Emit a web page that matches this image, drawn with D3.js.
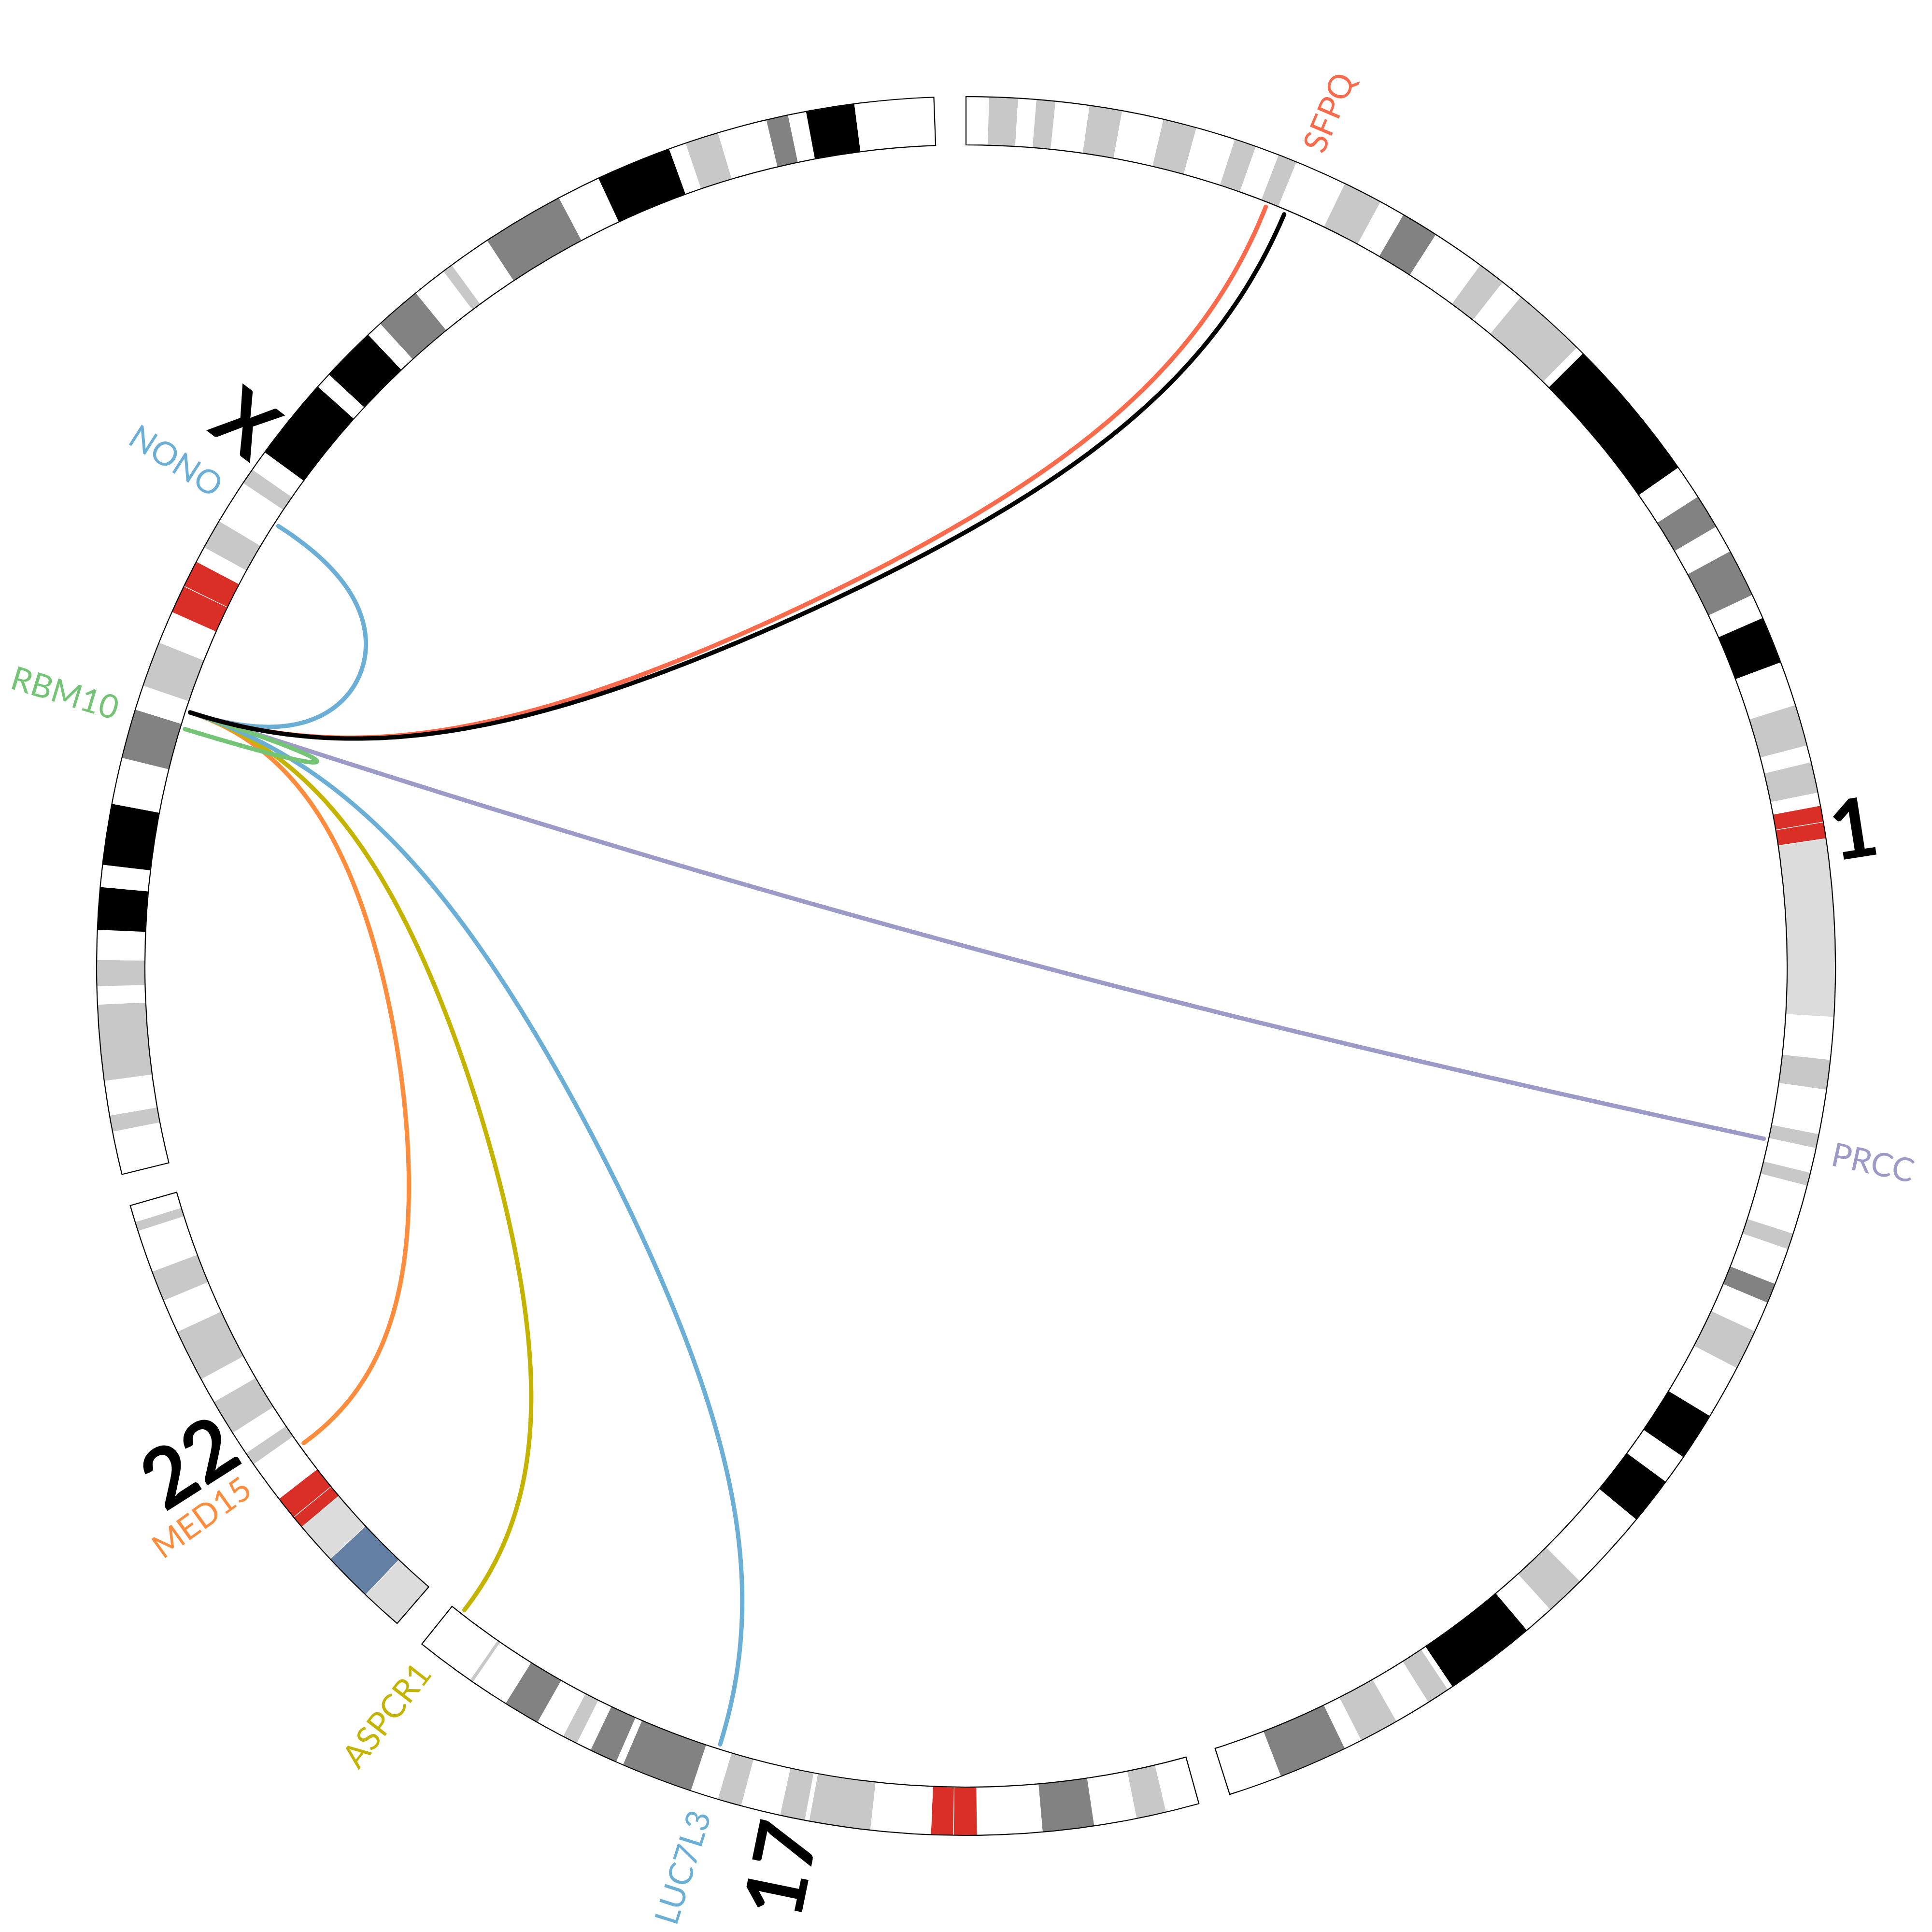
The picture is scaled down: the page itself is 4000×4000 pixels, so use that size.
<!DOCTYPE html>
<html>
<head>
<meta charset="utf-8">
<script src="https://cdn.jsdelivr.net/npm/d3@7"></script>
<style>
  html, body { margin: 0; padding: 0; background: #ffffff; }
  svg { display: block; }
</style>
</head>
<body>
<svg id="chart" width="4000" height="4000"></svg>
<script>
// ---------------- DATA ----------------
const chromNames = ["1", "17", "22", "X"];
const chromLengths = [248.956422, 83.257441, 50.818468, 156.040895]; // Mb
const chromGapDeg = 2.12;

// cytobands [start Mb, end Mb, stain]
const bandsChr1 = [
  [0,2.3,"gneg"],[2.3,5.3,"gpos25"],[5.3,7.1,"gneg"],[7.1,9.1,"gpos25"],[9.1,12.5,"gneg"],
  [12.5,15.9,"gpos50"],[15.9,20.1,"gneg"],[20.1,23.6,"gpos25"],[23.6,27.6,"gneg"],[27.6,29.9,"gpos25"],
  [29.9,32.3,"gneg"],[32.3,34.3,"gpos25"],[34.3,39.6,"gneg"],[39.6,43.7,"gpos25"],[43.7,46.3,"gneg"],
  [46.3,50.2,"gpos75"],[50.2,55.6,"gneg"],[55.6,58.5,"gpos50"],[58.5,60.8,"gneg"],[60.8,68.5,"gpos50"],
  [68.5,69.3,"gneg"],[69.3,84.4,"gpos100"],[84.4,87.9,"gneg"],[87.9,91.5,"gpos75"],[91.5,94.3,"gneg"],
  [94.3,99.3,"gpos75"],[99.3,101.8,"gneg"],[101.8,106.7,"gpos100"],[106.7,111.2,"gneg"],[111.2,115.5,"gpos50"],
  [115.5,117.2,"gneg"],[117.2,120.4,"gpos50"],[120.4,121.7,"gneg"],[121.7,123.4,"acen"],[123.4,125.1,"acen"],
  [125.1,143.2,"gvar"],[143.2,147.5,"gneg"],[147.5,150.6,"gpos50"],[150.6,155.1,"gneg"],[155.1,156.6,"gpos50"],
  [156.6,159.1,"gneg"],[159.1,160.5,"gpos50"],[160.5,165.5,"gneg"],[165.5,167.2,"gpos50"],[167.2,170.9,"gneg"],
  [170.9,173.0,"gpos75"],[173.0,176.1,"gneg"],[176.1,180.3,"gpos50"],[180.3,185.8,"gneg"],[185.8,190.8,"gpos100"],
  [190.8,193.8,"gneg"],[193.8,198.7,"gpos100"],[198.7,207.1,"gneg"],[207.1,211.3,"gpos25"],[211.3,214.4,"gneg"],
  [214.4,223.9,"gpos100"],[223.9,224.4,"gneg"],[224.4,226.8,"gpos25"],[226.8,230.5,"gneg"],[230.5,234.6,"gpos50"],
  [234.6,236.4,"gneg"],[236.4,243.5,"gpos75"],[243.5,248.956422,"gneg"]
];
const bandsChr17 = [
  [0,3.4,"gneg"],[3.4,6.5,"gpos50"],[6.5,10.8,"gneg"],[10.8,16.1,"gpos75"],[16.1,22.7,"gneg"],
  [22.7,25.1,"acen"],[25.1,27.4,"acen"],[27.4,33.5,"gneg"],[33.5,39.8,"gpos50"],[39.8,40.2,"gneg"],
  [40.2,42.8,"gpos25"],[42.8,46.8,"gneg"],[46.8,49.3,"gpos25"],[49.3,52.1,"gneg"],[52.1,59.5,"gpos75"],
  [59.5,60.2,"gneg"],[60.2,63.1,"gpos75"],[63.1,64.6,"gneg"],[64.6,66.2,"gpos50"],[66.2,69.1,"gneg"],
  [69.1,72.9,"gpos75"],[72.9,76.8,"gneg"],[76.8,77.2,"gpos25"],[77.2,83.257441,"gneg"]
];
const bandsChr22 = [
  [0,4.3,"gvar"],[4.3,9.4,"stalk"],[9.4,13.7,"gvar"],[13.7,15.0,"acen"],[15.0,17.4,"acen"],
  [17.4,21.7,"gneg"],[21.7,23.1,"gpos25"],[23.1,25.5,"gneg"],[25.5,29.2,"gpos50"],[29.2,31.8,"gneg"],
  [31.8,37.2,"gpos50"],[37.2,40.6,"gneg"],[40.6,43.8,"gpos50"],[43.8,48.1,"gneg"],[48.1,49.1,"gpos50"],
  [49.1,50.818468,"gneg"]
];
const bandsChrX = [
  [0,4.4,"gneg"],[4.4,6.1,"gpos50"],[6.1,9.6,"gneg"],[9.6,17.4,"gpos50"],[17.4,19.2,"gneg"],
  [19.2,21.9,"gpos50"],[21.9,24.9,"gneg"],[24.9,29.3,"gpos100"],[29.3,31.5,"gneg"],[31.5,37.8,"gpos100"],
  [37.8,42.5,"gneg"],[42.5,47.6,"gpos75"],[47.6,50.1,"gneg"],[50.1,54.8,"gpos25"],[54.8,58.1,"gneg"],
  [58.1,61.0,"acen"],[61.0,63.8,"acen"],[63.8,65.4,"gneg"],[65.4,68.5,"gpos50"],[68.5,73.0,"gneg"],
  [73.0,74.7,"gpos50"],[74.7,76.8,"gneg"],[76.8,85.4,"gpos100"],[85.4,87.0,"gneg"],[87.0,92.7,"gpos100"],
  [92.7,94.3,"gneg"],[94.3,99.1,"gpos75"],[99.1,102.6,"gneg"],[102.6,103.7,"gpos50"],[103.7,108.0,"gneg"],
  [108.0,116.5,"gpos75"],[116.5,120.9,"gneg"],[120.9,128.7,"gpos100"],[128.7,130.4,"gneg"],[130.4,133.9,"gpos25"],
  [133.9,138.9,"gneg"],[138.9,141.2,"gpos75"],[141.2,143.0,"gneg"],[143.0,148.0,"gpos100"],[148.0,156.040895,"gneg"]
];
const chromBands = [bandsChr1, bandsChr17, bandsChr22, bandsChrX];

const stainNames  = ["gneg","gpos25","gpos50","gpos75","gpos100","acen","gvar","stalk"];
const stainColors = ["#FFFFFF","#C8C8C8","#C8C8C8","#828282","#000000","#D92F27","#DCDCDC","#647FA4"];

// gene labels
const geneNames  = ["SFPQ", "NONO", "RBM10", "PRCC", "MED15", "ASPCR1", "LUC7L3"];
const geneChroms = ["1", "X", "X", "1", "22", "17", "17"];
const genePos    = [35.3, 71.28, 47.15, 156.75, 20.45, 81.7, 50.6]; // Mb
const geneColors = ["#FB6A4A", "#6BAED6", "#74C476", "#9E9AC8", "#FD8D3C", "#C4B400", "#6BAED6"];

// links (fusion pairs), drawn in this order
const linkFromChrom = ["X", "X", "X", "X", "X", "X", "X", "X"];
const linkFromPos   = [49.03, 49.03, 49.03, 49.03, 47.15, 49.03, 49.03, 49.03];
const linkToChrom   = ["22", "17", "17", "1", "X", "X", "1", "1"];
const linkToPos     = [20.50, 81.98, 50.72, 156.75, 49.03, 71.28, 33.04, 35.18];
const linkColors    = ["#FD8D3C", "#C4B400", "#6BAED6", "#9E9AC8", "#74C476", "#6BAED6", "#FB6A4A", "#000000"];

// ---------------- LAYOUT ----------------
const cx = 2000, cy = 2000;
const rIn = 1700, rOut = 1800, rLink = 1690;
const rChromLabel = 1810, rGeneLabel = 1835;
const bezierRadius = 0, bezierPurity = 0.19, crest = 1;

const svg = d3.select("#chart");
svg.append("rect").attr("width", 4000).attr("height", 4000).attr("fill", "#ffffff");
const g = svg.append("g").attr("transform", `translate(${cx},${cy})`);

const totalLen = d3.sum(chromLengths);
const degPerMb = (360 - chromGapDeg * chromNames.length) / totalLen;
const rad = d => d * Math.PI / 180;
const scales = {};
let cursor = 0;
chromNames.forEach((c, i) => {
  const s = cursor, e = s + chromLengths[i] * degPerMb;
  scales[c] = d3.scaleLinear().domain([0, chromLengths[i]]).range([rad(s), rad(e)]);
  cursor = e + chromGapDeg;
});
const stainColor = d3.scaleOrdinal().domain(stainNames).range(stainColors);

// ---------------- IDEOGRAM ----------------
const bandArc = d3.arc().innerRadius(rIn).outerRadius(rOut);
chromNames.forEach((c, i) => {
  const sc = scales[c];
  const cg = g.append("g");
  cg.selectAll("path.band").data(chromBands[i]).join("path")
    .attr("class", "band")
    .attr("d", d => bandArc({startAngle: sc(d[0]), endAngle: sc(d[1])}))
    .attr("fill", d => stainColor(d[2]))
    .attr("stroke", "#ffffff")
    .attr("stroke-width", 1.2);
  cg.append("path")
    .attr("d", bandArc({startAngle: sc(0), endAngle: sc(chromLengths[i])}))
    .attr("fill", "none")
    .attr("stroke", "#000000")
    .attr("stroke-width", 2.2)
    .attr("stroke-linejoin", "miter");
});

// ---------------- TEXT ----------------
function radialText(sel, angle, r, text, size, weight, color) {
  const deg = angle * 180 / Math.PI;
  const norm = ((deg % 360) + 360) % 360;
  const x = r * Math.sin(angle), y = -r * Math.cos(angle);
  const right = norm < 180;
  sel.append("text")
    .attr("transform", `translate(${x},${y}) rotate(${right ? norm - 90 : norm + 90})`)
    .attr("text-anchor", right ? "start" : "end")
    .attr("dy", "0.36em")
    .attr("font-family", "Lato, 'Open Sans', 'DejaVu Sans', sans-serif")
    .attr("font-size", size)
    .attr("font-weight", weight)
    .attr("fill", color)
    .text(text);
}

chromNames.forEach((c, i) => {
  const sc = scales[c];
  radialText(g, sc(chromLengths[i] / 2), rChromLabel, c, 170, 700, "#000000");
});
geneNames.forEach((n, i) => {
  radialText(g, scales[geneChroms[i]](genePos[i]), rGeneLabel, n, 68, 400, geneColors[i]);
});

// ---------------- LINKS (Circos-style bezier) ----------------
const pt = (a, r) => [r * Math.sin(a), -r * Math.cos(a)];
function linkPoints(a1, a2) {
  let d = ((a2 - a1) % (2 * Math.PI) + 2 * Math.PI) % (2 * Math.PI);
  let mid;
  if (d > Math.PI) { d = 2 * Math.PI - d; mid = a2 + d / 2; } else { mid = a1 + d / 2; }
  const bisect = rLink * Math.cos(d / 2);
  const rb = bezierRadius + (1 - bezierPurity) * (bisect - bezierRadius);
  const q = rLink - Math.abs(rLink - rb) * crest;
  const P = [pt(a1, rLink), pt(a1, q), pt(mid, rb), pt(a2, q), pt(a2, rLink)];
  const binom = [1, 4, 6, 4, 1];
  const out = [];
  const N = 240;
  for (let k = 0; k <= N; k++) {
    const t = k / N;
    let x = 0, y = 0;
    for (let i = 0; i < 5; i++) {
      const b = binom[i] * Math.pow(1 - t, 4 - i) * Math.pow(t, i);
      x += b * P[i][0]; y += b * P[i][1];
    }
    out.push([x, y]);
  }
  return out;
}
const line = d3.line().curve(d3.curveLinear);
const linkIdx = d3.range(linkColors.length);
g.append("g").selectAll("path").data(linkIdx).join("path")
  .attr("d", i => line(linkPoints(scales[linkFromChrom[i]](linkFromPos[i]), scales[linkToChrom[i]](linkToPos[i]))))
  .attr("fill", "none")
  .attr("stroke", i => linkColors[i])
  .attr("stroke-width", 9)
  .attr("stroke-linecap", "round")
  .attr("stroke-linejoin", "round");
</script>
</body>
</html>
